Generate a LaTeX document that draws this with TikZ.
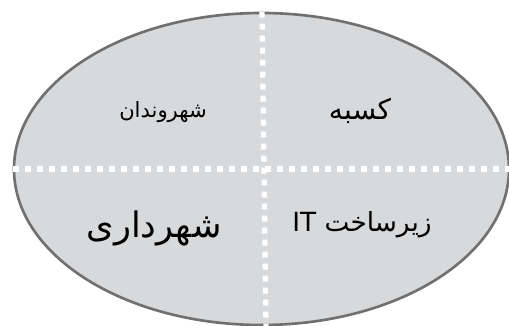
\documentclass[tikz,border=0pt]{standalone}
\usepackage{fontspec}
\newfontfamily\arabicfont[Script=Arabic]{DejaVu Sans}
\TeXXeTstate=1
\usepackage{tikz}
\usetikzlibrary{shapes.geometric}
\definecolor{cellgray}{HTML}{D8D9DB}
\definecolor{rimgray}{HTML}{707070}
\newcommand\ovalwidth{9.9cm}
\newcommand\ovalheight{6.24cm}
\tikzstyle{oval} = [ellipse, minimum width=\ovalwidth, minimum height=\ovalheight, inner sep=0pt, draw=rimgray, line width=1.5pt, fill=cellgray]
\tikzstyle{divider} = [draw=white, line width=3pt, dash pattern=on 0.12cm off 0.12cm]
\tikzstyle{word} = [inner sep=0pt, text=black, font=\arabicfont]

\begin{document}
\begin{tikzpicture}

            \useasboundingbox (0,0) rectangle (10.18,6.52);
            \node (city) [oval] at (5.23,3.14) {};

            \node (citizens) [word, font=\arabicfont\fontsize{12}{14}\selectfont] at ([shift={(-1.97cm,1.14cm)}]city.center) {\beginR شهروندان\endR};
            \node (business) [word, font=\arabicfont\fontsize{16}{19}\selectfont] at ([shift={(1.97cm,1.16cm)}]city.center) {\beginR کسبه\endR};
            \node (municipality) [word, font=\arabicfont\fontsize{20}{24}\selectfont] at ([shift={(-2.15cm,-1.18cm)}]city.center) {\beginR شهرداری\endR};
            \node (infra) [word, font=\arabicfont\fontsize{15}{18}\selectfont] at ([shift={(2.01cm,-1.12cm)}]city.center) {\beginR زیرساخت \beginL IT\endL\endR};

            \coordinate (rightedge) at ([xshift=0.03cm]city.east);
            \draw [divider] (city.west) -- (rightedge);
            \draw [divider] ([xshift=0.01cm]city.north) -- ([xshift=0.09cm]city.south);

        \end{tikzpicture}
\end{document}
